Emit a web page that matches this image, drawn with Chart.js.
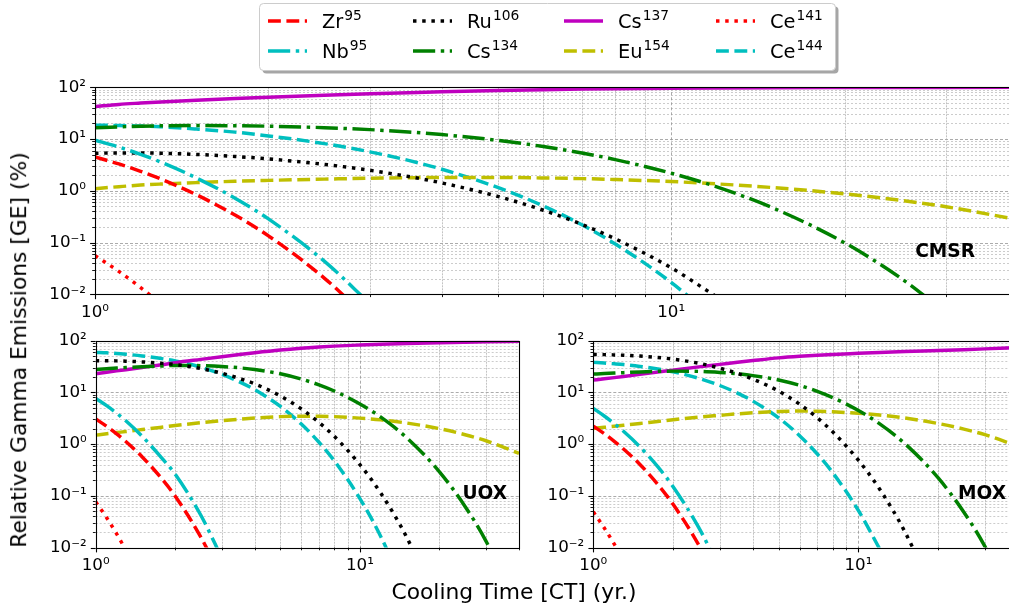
<!DOCTYPE html>
<html>
<head>
<meta charset="utf-8">
<script src="https://cdn.jsdelivr.net/npm/chart.js@4.4.1/dist/chart.umd.min.js"></script>
<style>
html, body { margin: 0; padding: 0; background: #ffffff; overflow: hidden; }
#wrap { position: relative; width: 1009px; height: 610px; overflow: hidden; background: #fff; }
canvas { position: absolute; }
#xlabel { position: absolute; left: 0; width: 1028px; top: 581px; text-align: center;
  font-family: "DejaVu Sans"; font-size: 21.8px; line-height: 1; color: #000; white-space: nowrap; }
#ylabel { position: absolute; left: 19px; top: 350px; width: 0; height: 0; }
#ylabel span { position: absolute; left: 0; top: 0; transform: translate(-50%, -50%) rotate(-90deg);
  font-family: "DejaVu Sans"; font-size: 21.8px; line-height: 1; color: #000; white-space: nowrap; }
</style>
</head>
<body>
<div id="wrap">
  <canvas id="cTop" width="1030" height="330" style="left:0px;top:0px;"></canvas>
  <canvas id="cUox" width="540" height="290" style="left:0px;top:300px;"></canvas>
  <canvas id="cMox" width="510" height="290" style="left:520px;top:300px;"></canvas>
  <div id="xlabel">Cooling Time [CT] (yr.)</div>
  <div id="ylabel"><span>Relative Gamma Emissions [GE] (%)</span></div>
</div>
<script>
// ---------------- DATA ----------------
const coolingTime = [1, 1.1, 1.2, 1.3, 1.5, 1.75, 2, 2.5, 3, 3.5, 4, 5, 6, 7, 8, 10, 12, 15, 20, 25, 30, 40];

const nuclideNames = ['Zr', 'Nb', 'Ru', 'Cs', 'Cs', 'Eu', 'Ce', 'Ce'];
const massNumbers  = ['95', '95', '106', '134', '137', '154', '141', '144'];
const panelNames   = ['CMSR', 'UOX', 'MOX'];

const yTickValues = [0.01, 0.1, 1, 10, 100];
const xTickValues = [1, 10];

// CMSR
const cmsrZr95  = [4.5, 3.3, 2.38, 1.7, 0.84, 0.34, 0.135, 0.0206, 0.0031, null, null, null, null, null, null, null, null, null, null, null, null, null];
const cmsrNb95  = [9.5, 7.0, 5.05, 3.6, 1.77, 0.72, 0.286, 0.0438, 0.0066, null, null, null, null, null, null, null, null, null, null, null, null, null];
const cmsrRu106 = [5.3, 5.4, 5.4, 5.32, 5.04, 4.6, 4.13, 3.24, 2.49, 1.89, 1.42, 0.78, 0.421, 0.224, 0.118, 0.0326, 0.0089, null, null, null, null, null];
const cmsrCs134 = [16.5, 17.2, 17.7, 18.0, 18.2, 18.1, 17.7, 16.6, 15.2, 13.7, 12.2, 9.44, 7.17, 5.38, 4.01, 2.19, 1.19, 0.469, 0.099, 0.0208, 0.0044, null];
const cmsrCs137 = [42.5, 46.7, 49.6, 52.2, 56.4, 60.6, 64.1, 69.9, 74.7, 78.7, 81.9, 86.8, 90.1, 92.4, 94.1, 96.2, 97.4, 98.4, 99.0, 99.3, 99.5, 99.7];
const cmsrEu154 = [1.1, 1.2, 1.29, 1.35, 1.44, 1.53, 1.59, 1.68, 1.75, 1.79, 1.81, 1.81, 1.77, 1.72, 1.65, 1.51, 1.36, 1.155, 0.872, 0.655, 0.493, 0.277];
const cmsrCe141 = [0.056, 0.0277, 0.0135, 0.0065, null, null, null, null, null, null, null, null, null, null, null, null, null, null, null, null, null, null];
const cmsrCe144 = [18.5, 18.3, 17.8, 17.3, 15.6, 13.6, 11.5, 8.17, 5.66, 3.87, 2.61, 1.16, 0.51, 0.22, 0.094, 0.017, 0.0031, null, null, null, null, null];

// UOX
const uoxZr95  = [3.06, 2.21, 1.58, 1.125, 0.565, 0.236, 0.098, 0.0159, 0.0025, null, null, null, null, null, null, null, null, null, null, null, null, null];
const uoxNb95  = [7.66, 5.53, 3.96, 2.82, 1.41, 0.59, 0.26, 0.042, 0.0063, null, null, null, null, null, null, null, null, null, null, null, null, null];
const uoxRu106 = [40.9, 41.0, 40.7, 40.2, 38.9, 36.8, 34.6, 28.9, 23.5, 18.6, 14.6, 8.52, 4.79, 2.62, 1.415, 0.4, 0.112, 0.0161, 0.00063, null, null, null];
const uoxCs134 = [27.8, 28.8, 29.7, 30.3, 31.4, 32.3, 33.2, 32.9, 31.7, 29.9, 27.7, 22.9, 18.1, 14.0, 10.65, 5.99, 3.32, 1.344, 0.291, 0.0623, 0.0133, 0.0006];
const uoxCs137 = [23, 24.6, 26.1, 27.5, 30.3, 33.8, 37.5, 43.5, 49, 54, 58.5, 66, 71.5, 75.5, 78.5, 82.5, 85.5, 88.5, 91.5, 93.5, 95, 97];
const uoxEu154 = [1.49, 1.585, 1.67, 1.75, 1.91, 2.1, 2.29, 2.59, 2.83, 3.03, 3.19, 3.4, 3.47, 3.46, 3.4, 3.18, 2.94, 2.56, 1.99, 1.52, 1.16, 0.665];
const uoxCe141 = [0.0766, 0.0377, 0.0184, 0.0089, null, null, null, null, null, null, null, null, null, null, null, null, null, null, null, null, null, null];
const uoxCe144 = [59.3, 58.2, 56.7, 54.7, 50.7, 45.6, 40.7, 30.7, 22.4, 16.0, 11.26, 5.35, 2.44, 1.085, 0.475, 0.0883, 0.0162, 0.00125, null, null, null, null];

// MOX
const moxZr95  = [2.23, 1.59, 1.13, 0.806, 0.403, 0.167, 0.0684, 0.0111, 0.0017, null, null, null, null, null, null, null, null, null, null, null, null, null];
const moxNb95  = [4.9, 3.5, 2.49, 1.77, 0.884, 0.367, 0.15, 0.0243, 0.0038, null, null, null, null, null, null, null, null, null, null, null, null, null];
const moxRu106 = [54.3, 53.8, 53.1, 52.4, 50.4, 47.4, 44.0, 36.6, 29.4, 23.3, 18.1, 10.6, 5.91, 3.22, 1.73, 0.488, 0.137, 0.0198, 0.0008, null, null, null];
const moxCs134 = [22.6, 23.2, 23.7, 24.1, 24.9, 25.5, 25.8, 25.5, 24.3, 22.9, 21.1, 17.4, 13.7, 10.5, 7.95, 4.47, 2.49, 1.013, 0.2215, 0.0482, 0.0105, 0.0005];
const moxCs137 = [17.3, 18.3, 19.3, 20.3, 22.3, 24.7, 27, 31.2, 34.8, 38.3, 41.3, 46.5, 50, 52.5, 54.3, 57, 59.3, 61.8, 64.5, 67, 69.5, 74];
const moxEu154 = [2.01, 2.11, 2.21, 2.31, 2.51, 2.74, 2.96, 3.32, 3.6, 3.85, 4.03, 4.28, 4.35, 4.31, 4.21, 3.94, 3.65, 3.2, 2.5, 1.95, 1.52, 0.91];
const moxCe141 = [0.049, 0.0238, 0.0116, 0.0056, null, null, null, null, null, null, null, null, null, null, null, null, null, null, null, null, null, null];
const moxCe144 = [38.1, 36.9, 35.7, 34.5, 31.8, 28.4, 25.0, 18.75, 13.6, 9.69, 6.78, 3.22, 1.455, 0.643, 0.28, 0.052, 0.0096, null, null, null, null, null];

const cmsrSeries = [cmsrZr95, cmsrNb95, cmsrRu106, cmsrCs134, cmsrCs137, cmsrEu154, cmsrCe141, cmsrCe144];
const uoxSeries  = [uoxZr95, uoxNb95, uoxRu106, uoxCs134, uoxCs137, uoxEu154, uoxCe141, uoxCe144];
const moxSeries  = [moxZr95, moxNb95, moxRu106, moxCs134, moxCs137, moxEu154, moxCe141, moxCe144];

// ---------------- STYLES ----------------
const LW = 3.47;
const DASH = [12.85, 5.56];
const DASHDOT = [22.2, 5.56, 3.47, 5.56];
const DOT = [3.47, 5.73];
const seriesStyle = [
  { color: '#ff0000', dash: DASH },     // Zr95
  { color: '#00bfbf', dash: DASHDOT },  // Nb95
  { color: '#000000', dash: DOT },      // Ru106
  { color: '#008000', dash: DASHDOT },  // Cs134
  { color: '#bf00bf', dash: [] },       // Cs137
  { color: '#bfbf00', dash: DASH },     // Eu154
  { color: '#ff0000', dash: DOT },      // Ce141
  { color: '#00bfbf', dash: DASH }      // Ce144
];

const FONT = '"DejaVu Sans", "Liberation Sans", sans-serif';
const SUP = { '-': '\u207B', '0': '\u2070', '1': '\u00B9', '2': '\u00B2', '3': '\u00B3' };
function supStr(s) { return String(s).split('').map(c => SUP[c] || c).join(''); }
function decadeLabel(v) {
  const e = Math.round(Math.log10(v));
  if (Math.abs(Math.log10(v) - e) > 1e-9) return '';
  return '10' + supStr(e);
}
function isDecade(v) { const l = Math.log10(v); return Math.abs(l - Math.round(l)) < 1e-9; }
function logTicks(min, max) {
  const out = [];
  for (let e = Math.floor(Math.log10(min)); e <= Math.ceil(Math.log10(max)); e++) {
    for (let m = 1; m <= 9; m++) {
      const v = +(m * Math.pow(10, e)).toPrecision(6);
      if (v >= min - 1e-12 && v <= max + 1e-9) out.push(v);
    }
  }
  return out;
}

function makeDatasets(series) {
  return series.map((arr, i) => ({
    label: nuclideNames[i] + supStr(''),
    data: coolingTime.map((t, k) => ({ x: t, y: arr[k] })),
    borderColor: seriesStyle[i].color,
    backgroundColor: seriesStyle[i].color,
    borderWidth: LW,
    borderDash: seriesStyle[i].dash,
    borderCapStyle: 'butt',
    borderJoinStyle: 'round',
    pointRadius: 0,
    fill: false,
    spanGaps: false,
    cubicInterpolationMode: 'monotone',
    clip: 0
  }));
}

// plugin: grid, spines, ticks, panel label, legend
const decor = {
  id: 'decor',
  beforeDatasetsDraw(chart) {
    const { ctx, chartArea: a } = chart;
    const xs = chart.scales.x, ys = chart.scales.y;
    ctx.save();
    ctx.beginPath(); ctx.rect(a.left, a.top, a.right - a.left, a.bottom - a.top); ctx.clip();
    ctx.lineWidth = 1;
    for (const t of ys.ticks) {
      const p = Math.round(ys.getPixelForValue(t.value)) + 0.5;
      const maj = isDecade(t.value);
      ctx.strokeStyle = maj ? 'rgba(150,150,150,0.8)' : 'rgba(170,170,170,0.6)';
      ctx.setLineDash(maj ? [3, 2] : [2, 2]);
      ctx.beginPath(); ctx.moveTo(a.left, p); ctx.lineTo(a.right, p); ctx.stroke();
    }
    for (const t of xs.ticks) {
      const p = Math.round(xs.getPixelForValue(t.value)) + 0.5;
      const maj = isDecade(t.value);
      ctx.strokeStyle = maj ? 'rgba(150,150,150,0.8)' : 'rgba(170,170,170,0.7)';
      ctx.setLineDash(maj ? [3, 2] : [2, 1]);
      ctx.beginPath(); ctx.moveTo(p, a.top); ctx.lineTo(p, a.bottom); ctx.stroke();
    }
    ctx.restore();
  },
  afterDatasetsDraw(chart, args, opts) {
    const { ctx, chartArea: a } = chart;
    const xs = chart.scales.x, ys = chart.scales.y;
    ctx.save();
    ctx.setLineDash([]);
    ctx.strokeStyle = '#000';
    // ticks
    for (const t of ys.ticks) {
      const p = Math.round(ys.getPixelForValue(t.value)) + 0.5;
      const maj = isDecade(t.value);
      ctx.lineWidth = maj ? 1.1 : 0.9;
      ctx.beginPath(); ctx.moveTo(a.left, p); ctx.lineTo(a.left - (maj ? 4.9 : 2.8), p); ctx.stroke();
    }
    for (const t of xs.ticks) {
      const p = Math.round(xs.getPixelForValue(t.value)) + 0.5;
      const maj = isDecade(t.value);
      ctx.lineWidth = maj ? 1.1 : 0.9;
      ctx.beginPath(); ctx.moveTo(p, a.bottom); ctx.lineTo(p, a.bottom + (maj ? 4.9 : 2.8)); ctx.stroke();
    }
    // spines
    ctx.lineWidth = 1.1;
    ctx.strokeRect(Math.round(a.left) + 0.5, Math.round(a.top) + 0.5, Math.round(a.right - a.left), Math.round(a.bottom - a.top));
    // panel label
    ctx.fillStyle = '#000';
    ctx.font = 'bold 18.6px ' + FONT;
    ctx.textAlign = 'right';
    ctx.textBaseline = 'middle';
    ctx.fillText(opts.panel, a.right - opts.dx, a.bottom - opts.dy);
    ctx.restore();
  },
  afterDraw(chart, args, opts) {
    if (!opts.legend) return;
    const ctx = chart.ctx;
    ctx.save();
    const bx = 259.5, by = 3.5, bw = 576, bh = 67;
    ctx.fillStyle = 'rgba(0,0,0,0.35)';
    ctx.beginPath(); ctx.roundRect(bx + 3, by + 3, bw, bh, 4); ctx.fill();
    ctx.fillStyle = '#ffffff';
    ctx.strokeStyle = '#cccccc';
    ctx.lineWidth = 1;
    ctx.beginPath(); ctx.roundRect(bx, by, bw, bh, 4); ctx.fill(); ctx.stroke();
    const colX = [268, 413, 564, 716];
    const rowY = [21, 51];
    chart.data.datasets.forEach((ds, i) => {
      const col = Math.floor(i / 2), row = i % 2;
      const x0 = colX[col], yc = rowY[row];
      ctx.strokeStyle = ds.borderColor;
      ctx.lineWidth = LW;
      ctx.lineCap = 'butt';
      ctx.setLineDash(ds.borderDash);
      ctx.beginPath(); ctx.moveTo(x0, yc); ctx.lineTo(x0 + 39, yc); ctx.stroke();
      ctx.setLineDash([]);
      ctx.fillStyle = '#000';
      ctx.textAlign = 'left';
      ctx.textBaseline = 'alphabetic';
      ctx.font = '19.4px ' + FONT;
      const tx = x0 + 54;
      ctx.fillText(nuclideNames[i], tx, yc + 7);
      const w = ctx.measureText(nuclideNames[i]).width;
      ctx.font = '13.8px ' + FONT;
      ctx.fillText(massNumbers[i], tx + w + 1, yc - 1);
    });
    ctx.restore();
  }
};

function makeChart(id, series, geom, panelOpts) {
  const el = document.getElementById(id);
  return new Chart(el, {
    type: 'line',
    data: { datasets: makeDatasets(series) },
    options: {
      responsive: false,
      animation: false,
      devicePixelRatio: 1,
      layout: { padding: { top: geom.top, right: geom.right, bottom: 0, left: 0 } },
      plugins: {
        legend: { display: false },
        tooltip: { enabled: false },
        decor: panelOpts
      },
      scales: {
        x: {
          type: 'logarithmic', min: 1, max: 40,
          afterFit: s => { s.height = geom.xh; },
          afterBuildTicks: s => { s.ticks = logTicks(1, 40).map(v => ({ value: v })); },
          grid: { display: false, drawTicks: false },
          border: { display: false },
          ticks: {
            autoSkip: false, maxRotation: 0, minRotation: 0, padding: 8,
            color: '#000', font: { family: FONT, size: 16.7 },
            callback: v => (xTickValues.includes(v) ? decadeLabel(v) : '')
          }
        },
        y: {
          type: 'logarithmic', min: 0.01, max: 100,
          afterFit: s => { s.width = geom.yw; },
          afterBuildTicks: s => { s.ticks = logTicks(0.01, 100).map(v => ({ value: v })); },
          grid: { display: false, drawTicks: false },
          border: { display: false },
          ticks: {
            autoSkip: false, padding: 9,
            color: '#000', font: { family: FONT, size: 16.7 },
            callback: v => (yTickValues.some(d => Math.abs(d - v) < 1e-12) ? decadeLabel(v) : '')
          }
        }
      }
    },
    plugins: [decor]
  });
}

makeChart('cTop', cmsrSeries, { top: 87.3, right: 12, xh: 35.7, yw: 95 },
  { panel: panelNames[0], dx: 43, dy: 42, legend: true });
makeChart('cUox', uoxSeries, { top: 40.7, right: 21, xh: 42.5, yw: 95.7 },
  { panel: panelNames[1], dx: 12, dy: 53, legend: false });
makeChart('cMox', moxSeries, { top: 40.7, right: 12, xh: 42.5, yw: 73.3 },
  { panel: panelNames[2], dx: 12, dy: 53, legend: false });
</script>
</body>
</html>
